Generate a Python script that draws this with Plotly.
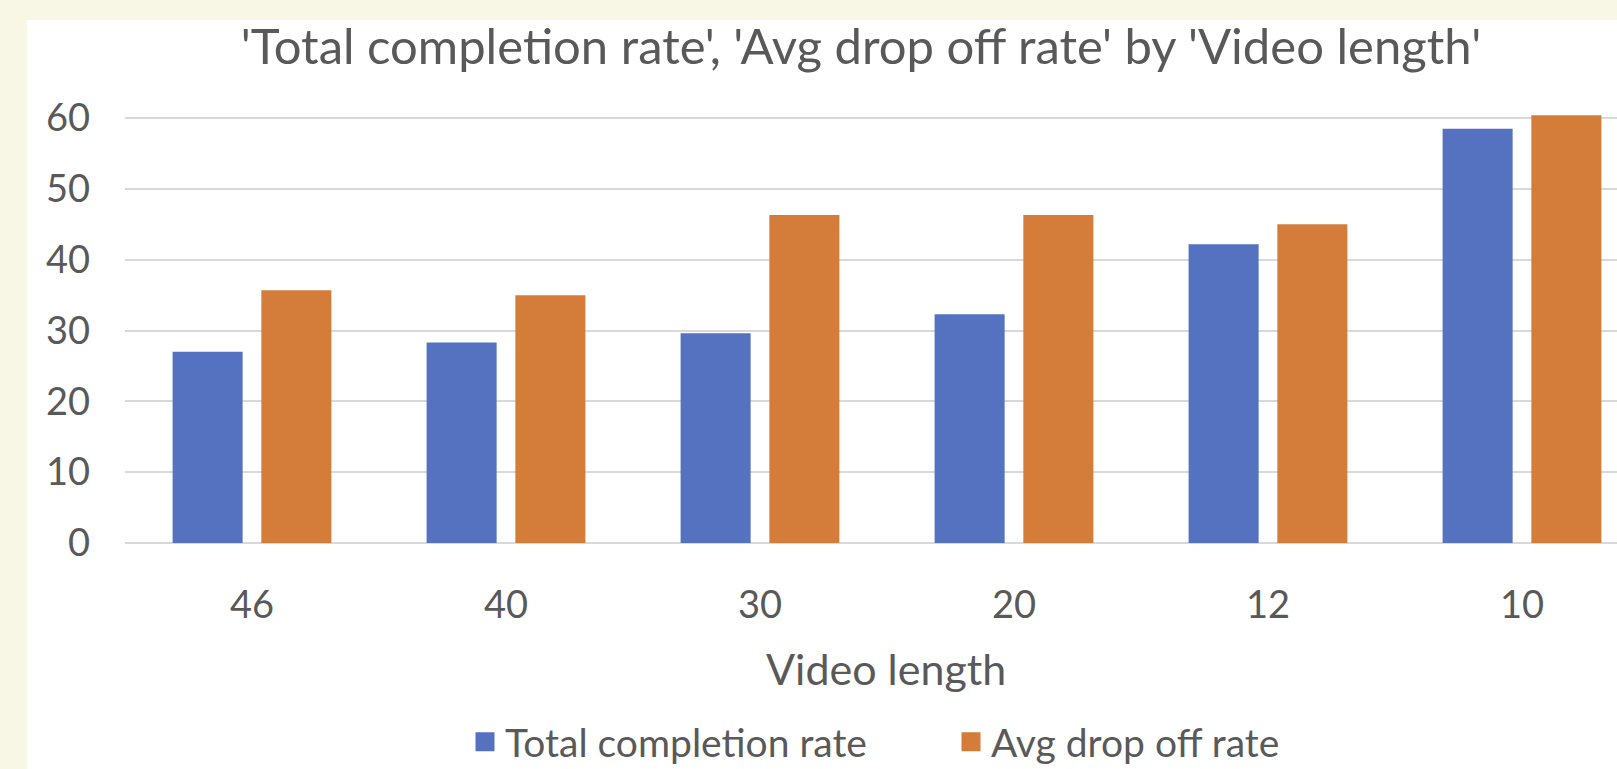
import plotly.graph_objects as go

categories = ["46", "40", "30", "20", "12", "10"]
completion = [27.0, 28.3, 29.6, 32.3, 42.2, 58.5]
drop_off = [35.7, 35.0, 46.3, 46.3, 45.0, 60.4]
y_ticks = [0, 10, 20, 30, 40, 50, 60]

BLUE = "#5572C0"
ORANGE = "#D47C3A"
TEXT = "#595959"
CREAM = "#F8F7E6"
FONT = "Lato"

W, H = 1617, 769
ML, MR, MT, MB = 125, 0, 111, 226
PW = W - ML - MR
PH = H - MT - MB

def px_x(p):
    return (p - ML) / PW

def px_y(p):
    return (H - MB - p) / PH

fig = go.Figure()
fig.add_trace(go.Bar(x=categories, y=completion, name="Total completion rate",
                     marker=dict(color=BLUE, line=dict(width=0)),
                     width=0.2757, offset=-0.3126, showlegend=False))
fig.add_trace(go.Bar(x=categories, y=drop_off, name="Avg drop off rate",
                     marker=dict(color=ORANGE, line=dict(width=0)),
                     width=0.2757, offset=0.0368, showlegend=False))
# legend entries
for nm, col in [("Total completion rate", BLUE), ("Avg drop off rate", ORANGE)]:
    fig.add_trace(go.Scatter(x=[None], y=[None], mode="markers", name=nm,
                             marker=dict(symbol="square", size=16, color=col,
                                         line=dict(color=col, width=3))))

fig.update_layout(
    width=W, height=H,
    margin=dict(l=ML, r=MR, t=MT, b=MB, autoexpand=False),
    paper_bgcolor=CREAM,
    plot_bgcolor="white",
    barmode="overlay",
    font=dict(family=FONT, color=TEXT),
    title=dict(text="'Total completion rate', 'Avg drop off rate' by 'Video length'",
               font=dict(size=49, color=TEXT, family=FONT),
               xref="paper", x=px_x(861), xanchor="center",
               yref="container", y=1 - 47 / H, yanchor="middle"),
    xaxis=dict(type="category", range=[-0.5, 5.374], showgrid=False,
               showline=False, zeroline=False, ticks="",
               tickfont=dict(size=38, color=TEXT), ticklabelstandoff=36,
               automargin=False),
    yaxis=dict(range=[0, 61], tickvals=y_ticks, showgrid=True, gridcolor="#D9D9D9",
               gridwidth=2, zeroline=True, zerolinecolor="#D9D9D9", zerolinewidth=2,
               showline=False, ticks="", tickfont=dict(size=38, color=TEXT),
               ticklabelstandoff=34, automargin=False),
    legend=dict(orientation="h", x=px_x(465), xanchor="left",
                y=px_y(742), yanchor="middle", font=dict(size=39, color=TEXT),
                bgcolor="rgba(0,0,0,0)", entrywidth=441, entrywidthmode="pixels",
                itemclick=False),
    annotations=[dict(text="Video length", xref="paper", yref="paper",
                      x=px_x(886), y=px_y(668), xanchor="center", yanchor="middle",
                      showarrow=False, font=dict(size=43, color=TEXT))],
    shapes=[dict(type="rect", xref="paper", yref="paper", layer="below",
                 x0=px_x(27), x1=1.2, y0=-1, y1=px_y(20),
                 fillcolor="white", line=dict(width=0))],
)

fig.write_html(
    "out.html",
    config={"displayModeBar": False},
    post_script="document.body.style.margin='0';document.body.style.overflow='hidden';"
                "document.body.style.background='" + CREAM + "';",
)
